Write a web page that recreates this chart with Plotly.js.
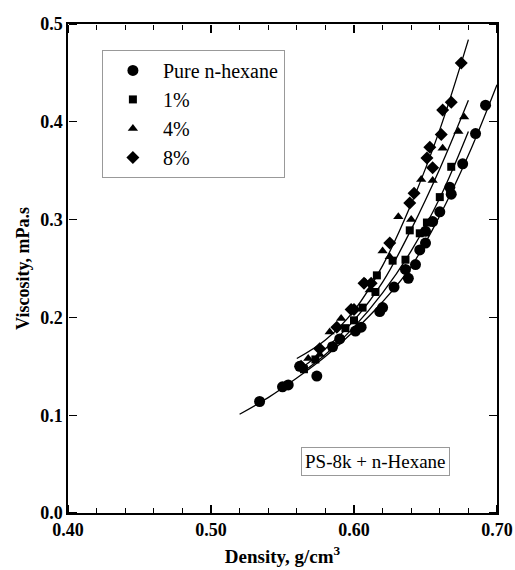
<!DOCTYPE html>
<html>
<head>
<meta charset="utf-8">
<script src="https://cdn.plot.ly/plotly-3.0.1.min.js"></script>
<style>html,body{margin:0;padding:0;background:#fff;}#chart{width:515px;height:570px;}</style>
</head>
<body>
<div id="chart"></div>
<script>
// Measured points
const hexX = [0.692,0.685,0.676,0.667,0.668,0.660,0.655,0.650,0.650,0.646,0.643,0.638,0.636,0.628,0.620,0.618,0.605,0.601,0.590,0.585,0.574,0.562,0.554,0.550,0.534];
const hexY = [0.417,0.388,0.357,0.333,0.326,0.308,0.298,0.288,0.276,0.269,0.254,0.240,0.249,0.231,0.210,0.206,0.190,0.186,0.178,0.170,0.140,0.150,0.131,0.129,0.114];
const p1X = [0.668,0.660,0.651,0.639,0.646,0.636,0.627,0.616,0.615,0.606,0.600,0.594,0.585,0.573,0.565];
const p1Y = [0.354,0.323,0.297,0.289,0.286,0.259,0.258,0.243,0.226,0.210,0.197,0.189,0.170,0.157,0.147];
const p4X = [0.677,0.673,0.662,0.647,0.655,0.631,0.640,0.620,0.625,0.608,0.611,0.591,0.583,0.576,0.568];
const p4Y = [0.405,0.390,0.373,0.341,0.340,0.303,0.300,0.268,0.262,0.236,0.228,0.199,0.185,0.162,0.158];
const p8X = [0.675,0.668,0.662,0.661,0.653,0.651,0.655,0.642,0.639,0.625,0.612,0.607,0.600,0.598,0.588,0.576,0.563];
const p8Y = [0.460,0.420,0.412,0.387,0.374,0.363,0.353,0.327,0.317,0.276,0.235,0.235,0.208,0.208,0.190,0.168,0.150];

// Fitted curves
const fitHexX = [0.52,0.54,0.56,0.58,0.60,0.62,0.64,0.66,0.68,0.70];
const fitHexY = [0.101,0.118,0.138,0.160,0.186,0.216,0.252,0.304,0.366,0.438];
const fit1X = [0.565,0.58,0.60,0.62,0.64,0.66,0.68];
const fit1Y = [0.145,0.162,0.190,0.225,0.268,0.322,0.390];
const fit4X = [0.565,0.58,0.60,0.62,0.64,0.66,0.68];
const fit4Y = [0.150,0.168,0.197,0.236,0.290,0.352,0.422];
const fit8X = [0.56,0.58,0.60,0.62,0.64,0.66,0.68];
const fit8Y = [0.158,0.177,0.207,0.253,0.316,0.392,0.484];

const seriesNames = ['Pure n-hexane','1%','4%','8%'];
const xTickVals = [0.4,0.5,0.6,0.7];
const xTickText = ['0.40','0.50','0.60','0.70'];
const yTickVals = [0,0.1,0.2,0.3,0.4,0.5];
const yTickText = ['0.0','0.1','0.2','0.3','0.4','0.5'];
const xRange = [0.4,0.7];
const yRange = [0,0.5];

const serif = "'Liberation Serif', 'Times New Roman', serif";
function pts(x,y,name,symbol,size){
  return {x:x,y:y,name:name,type:'scatter',mode:'markers',
    marker:{symbol:symbol,size:size,color:'#000'}};
}
function fit(x,y){
  return {x:x,y:y,type:'scatter',mode:'lines',showlegend:false,hoverinfo:'skip',
    line:{color:'#000',width:1.3,shape:'spline'}};
}
// invisible carriers for the tick-only frame axes
function carrier(xa,ya){
  return {x:hexX,y:hexY,xaxis:xa,yaxis:ya,type:'scatter',mode:'markers',
    marker:{opacity:0,size:1},showlegend:false,hoverinfo:'skip'};
}
const data = [
  fit(fitHexX,fitHexY), fit(fit1X,fit1Y), fit(fit4X,fit4Y), fit(fit8X,fit8Y),
  pts(hexX,hexY,seriesNames[0],'circle',11),
  pts(p1X,p1Y,seriesNames[1],'square',8),
  pts(p4X,p4Y,seriesNames[2],'triangle-up',9),
  pts(p8X,p8Y,seriesNames[3],'diamond',10),
  carrier('x2','y2'), carrier('x3','y3')
];
const bold = a => a.map(t => '<b>' + t + '</b>');
function tickX(side,pos){
  return {overlaying:'x',side:side,anchor:'free',position:pos,range:xRange,
    tickmode:'linear',tick0:0.4,dtick:0.1,ticks:'outside',ticklen:8,tickwidth:1.3,tickcolor:'#000',
    minor:{tick0:0.4,dtick:0.02,ticks:'outside',ticklen:5,tickwidth:1.1,tickcolor:'#000',showgrid:false},
    showticklabels:false,showline:false,showgrid:false,zeroline:false,fixedrange:true};
}
function tickY(side,pos){
  return {overlaying:'y',side:side,anchor:'free',position:pos,range:yRange,
    tickmode:'linear',tick0:0,dtick:0.1,ticks:'outside',ticklen:8,tickwidth:1.3,tickcolor:'#000',
    showticklabels:false,showline:false,showgrid:false,zeroline:false,fixedrange:true};
}
const layout = {
  width:515, height:570,
  margin:{l:68,r:18,t:24,b:57},
  paper_bgcolor:'#fff', plot_bgcolor:'#fff',
  font:{family:serif,color:'#000'},
  showlegend:true,
  legend:{x:0.079,y:0.947,xanchor:'left',yanchor:'top',
    bgcolor:'#fff',bordercolor:'#999',borderwidth:1,itemwidth:50,
    font:{family:serif,size:20,color:'#000'},tracegroupgap:0},
  xaxis:{range:xRange,tickmode:'array',tickvals:xTickVals,ticktext:bold(xTickText),
    ticks:'',showline:true,linecolor:'#000',linewidth:1.6,mirror:true,
    showgrid:false,zeroline:false,
    tickfont:{family:serif,size:18,color:'#000'},
    title:{text:'<b>Density, g/cm<sup>3</sup></b>',font:{family:serif,size:19},standoff:10}},
  yaxis:{range:yRange,tickmode:'array',tickvals:yTickVals,ticktext:bold(yTickText),
    ticks:'',showline:true,linecolor:'#000',linewidth:1.6,mirror:true,
    showgrid:false,zeroline:false,
    tickfont:{family:serif,size:18,color:'#000'},
    title:{text:'<b>Viscosity, mPa.s</b>',font:{family:serif,size:18},standoff:6}},
  xaxis2: tickX('top',0),
  xaxis3: tickX('bottom',1),
  yaxis2: tickY('right',0),
  yaxis3: tickY('left',1),
  annotations:[{xref:'paper',yref:'paper',x:0.716,y:0.106,xanchor:'center',yanchor:'middle',
    text:'PS-8k + n-Hexane',showarrow:false,font:{family:serif,size:19,color:'#000'},
    bordercolor:'#999',borderwidth:1,borderpad:3,bgcolor:'#fff'}]
};
Plotly.newPlot('chart',data,layout,{displayModeBar:false,staticPlot:true});
</script>
</body>
</html>
